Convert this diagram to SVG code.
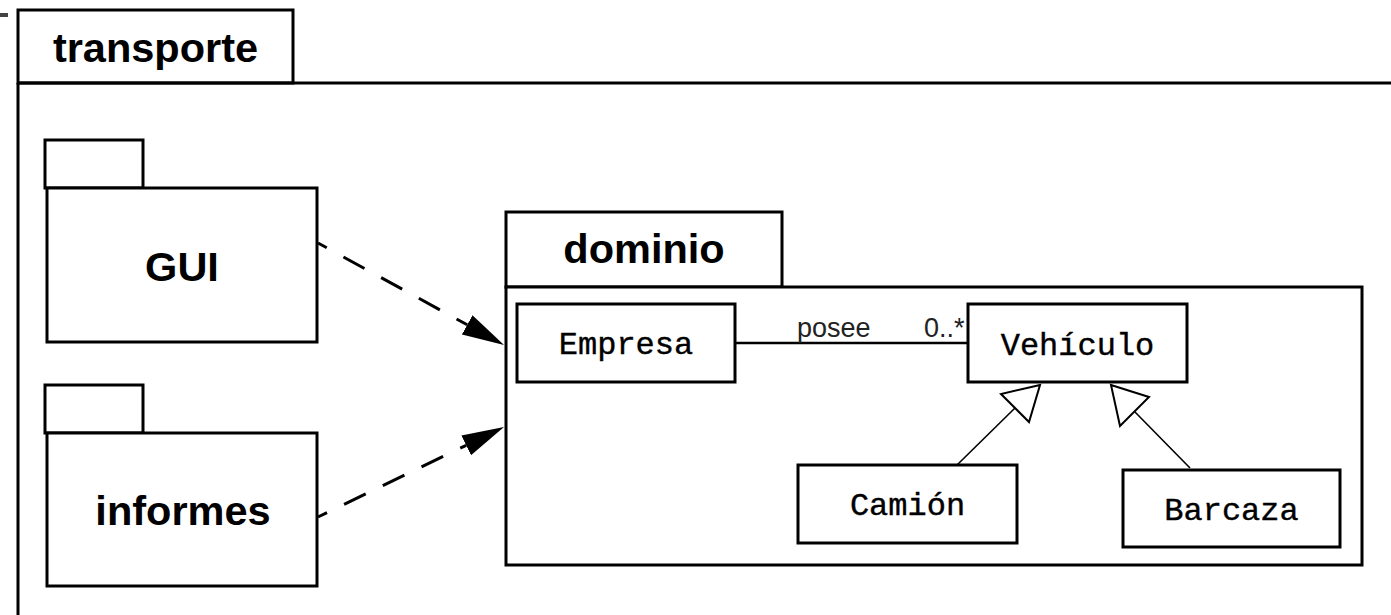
<svg xmlns="http://www.w3.org/2000/svg" width="1391" height="615" viewBox="0 0 1391 615">
  <style>
    .frame { fill: none; stroke: #000; stroke-width: 3; }
    .box { fill: #fff; stroke: #000; stroke-width: 3; }
    .pkg { font-family: "Liberation Sans", Arial, sans-serif; font-weight: bold; font-size: 41.5px; fill: #000; text-anchor: middle; }
    .cls { font-family: "Liberation Mono", "Courier New", monospace; font-size: 32px; fill: #000; stroke: #000; stroke-width: 0.4; text-anchor: middle; }
    .lbl { font-family: "Liberation Sans", Arial, sans-serif; font-size: 27px; fill: #222; }
    .dep { fill: none; stroke: #000; stroke-width: 3; stroke-dasharray: 24 19; stroke-dashoffset: 14; }
    .assoc { fill: none; stroke: #000; stroke-width: 2.5; }
    .gen { fill: none; stroke: #000; stroke-width: 1.6; }
    .tri { fill: #fff; stroke: #000; stroke-width: 2; stroke-linejoin: miter; }
  </style>
  <defs>
    <marker id="open-dep" markerUnits="userSpaceOnUse" markerWidth="44" markerHeight="24" refX="0" refY="11" orient="auto" viewBox="0 0 44 22">
      <path d="M0,0 L42,11 L0,22 Z" fill="#000"/>
    </marker>
  </defs>

  <rect x="0" y="0" width="1391" height="615" fill="#fff"/>
  <rect x="0" y="13" width="8" height="4" fill="#444"/>

  <!-- transporte package frame -->
  <g id="transporte">
    <rect class="frame" x="18" y="10" width="275" height="73"/>
    <path class="frame" d="M18,83 H1393 M18,83 V617"/>
    <text class="pkg" x="155.5" y="62">transporte</text>
  </g>

  <!-- GUI package -->
  <g id="gui">
    <rect class="box" x="45" y="140" width="98" height="48"/>
    <rect class="box" x="47" y="188" width="270" height="154"/>
    <text class="pkg" x="182" y="281">GUI</text>
  </g>

  <!-- informes package -->
  <g id="informes">
    <rect class="box" x="45" y="385" width="98" height="48"/>
    <rect class="box" x="47" y="433" width="270" height="153"/>
    <text class="pkg" x="183" y="525">informes</text>
  </g>

  <!-- dominio package -->
  <g id="dominio">
    <rect class="box" x="506" y="212" width="276" height="75"/>
    <rect class="box" x="506" y="287" width="856" height="278"/>
    <text class="pkg" x="644" y="263">dominio</text>
  </g>

  <g id="empresa">
    <rect class="box" x="517" y="304" width="218" height="78"/>
    <text class="cls" x="626" y="354">Empresa</text>
  </g>

  <g id="vehiculo">
    <rect class="box" x="968" y="304" width="219" height="78"/>
    <text class="cls" x="1077.5" y="355">Vehículo</text>
  </g>

  <g id="camion">
    <rect class="box" x="798" y="465" width="219" height="78"/>
    <text class="cls" x="907.5" y="515">Camión</text>
  </g>

  <g id="barcaza">
    <rect class="box" x="1123" y="470" width="217" height="77"/>
    <text class="cls" x="1231.5" y="520">Barcaza</text>
  </g>

  <!-- connectors -->
  <g id="connectors">
    <path class="dep" d="M318,243 L467.2,324.8" marker-end="url(#open-dep)"/>
    <path class="dep" d="M318,517 L466.2,445.3" marker-end="url(#open-dep)"/>

    <line class="assoc" x1="735" y1="343" x2="968" y2="343"/>
    <text class="lbl" x="797" y="337">posee</text>
    <text class="lbl" x="924" y="337">0..*</text>

    <line class="gen" x1="957" y1="465" x2="1015" y2="408"/>
    <polygon class="tri" points="1040,385 1001,394 1029,422"/>
    <line class="gen" x1="1190" y1="468" x2="1134.5" y2="411.5"/>
    <polygon class="tri" points="1111,385 1149,397 1120,426"/>
  </g>
</svg>
